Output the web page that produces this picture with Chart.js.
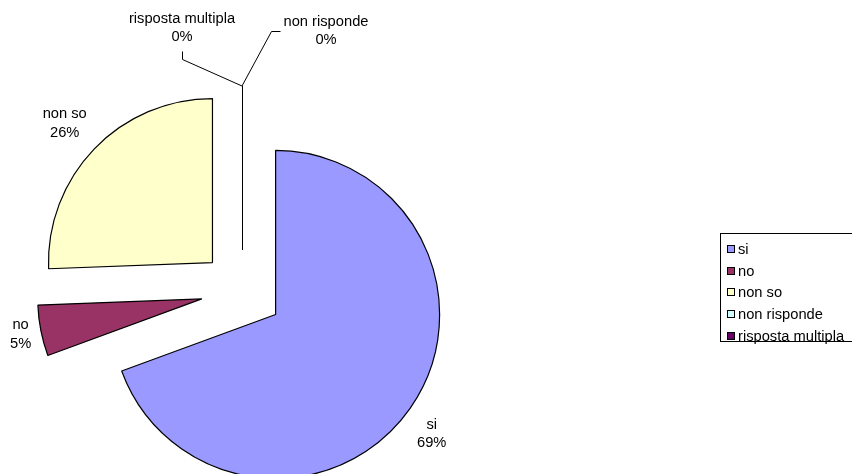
<!DOCTYPE html>
<html>
<head>
<meta charset="utf-8">
<script src="https://cdn.jsdelivr.net/npm/chart.js@4.4.0/dist/chart.umd.min.js"></script>
<style>
  body { margin: 0; background: #fff; }
  #wrap { position: relative; width: 852px; height: 474px; overflow: hidden; }
  #legend {
    position: absolute; left: 720px; top: 233px; width: 150px; height: 109px;
    border: 1px solid #000; box-sizing: border-box; padding-top: 4px;
    font: 14.7px "Liberation Sans", Arial, sans-serif; color: #000;
  }
  #legend .row { height: 21.7px; display: flex; align-items: center; }
  #legend .sw { width: 6px; height: 6px; border: 1px solid #000; margin-left: 6px; margin-right: 3px; }
</style>
</head>
<body>
<div id="wrap">
  <canvas id="chart"></canvas>
  <div id="legend"></div>
</div>
<script>
// data (percent of answers)
const categories = ["si", "no", "non so", "non risponde", "risposta multipla"];
const values = [69.4, 5.0, 25.6, 0, 0];

const colors = ["#9999FF", "#993366", "#FFFFCC", "#CCFFFF", "#660066"];

const EXPLODE = 0.25;   // every slice pulled out by a quarter of the radius
const FONT = '14.7px "Liberation Sans", Arial, sans-serif';
const LINE = 18.4;
const GAP = 8;
// labels that were dragged away from their default spot in the original
const labelNudge = [[3, 10.6], [-2, -1.5], [-8, -7], [84, -28.5], [-60, -31.5]];

const total = values.reduce((a, b) => a + b, 0);

// draw each slice translated along its middle angle (pure explode, same radius)
const explodePlugin = {
  id: 'explode',
  beforeDatasetDraw(chart, args) {
    const ctx = chart.ctx;
    args.meta.data.forEach((arc) => {
      const mid = (arc.startAngle + arc.endAngle) / 2;
      const d = arc.outerRadius * EXPLODE;
      ctx.save();
      ctx.translate(Math.cos(mid) * d, Math.sin(mid) * d);
      arc.draw(ctx);
      ctx.restore();
    });
    return false;
  }
};

const labelPlugin = {
  id: 'pieLabels',
  afterDraw(chart) {
    const ctx = chart.ctx;
    const meta = chart.getDatasetMeta(0);
    ctx.save();
    ctx.font = FONT;
    ctx.fillStyle = '#000';
    ctx.strokeStyle = '#000';
    ctx.lineWidth = 1;
    ctx.textAlign = 'center';
    ctx.textBaseline = 'middle';
    meta.data.forEach((arc, i) => {
      const mid = (arc.startAngle + arc.endAngle) / 2;
      const ux = Math.cos(mid), uy = Math.sin(mid);
      const R = arc.outerRadius;
      const d = R * EXPLODE;
      const ax = arc.x + ux * d, ay = arc.y + uy * d;
      const ex = ax + ux * R, ey = ay + uy * R;

      // zero slices only show as a radius line
      if (arc.circumference === 0) {
        ctx.beginPath();
        ctx.moveTo(Math.round(ax) + 0.5, ay);
        ctx.lineTo(Math.round(ex) + 0.5, ey);
        ctx.stroke();
      }

      const lines = [categories[i], Math.round(values[i] / total * 100) + '%'];
      const w = Math.max(...lines.map(t => ctx.measureText(t).width));
      const h = LINE * lines.length;
      const nudge = labelNudge[i];
      const cx = ax + ux * (R + GAP) + ux * w / 2 + nudge[0];
      const cy = ay + uy * (R + GAP) + uy * h / 2 + nudge[1];
      lines.forEach((t, k) => {
        ctx.fillText(t, cx, cy + (k - (lines.length - 1) / 2) * LINE);
      });

      // leader line when the label sits away from the slice
      if (Math.hypot(nudge[0], nudge[1]) > 20) {
        const left = cx - w / 2 - 4, right = cx + w / 2 + 4;
        const top = cy - h / 2 - 4, bottom = cy + h / 2 + 4;
        const hgap = Math.max(left - ex, ex - right, 0);
        const vgap = Math.max(top - ey, ey - bottom, 0);
        let p1, p2;
        if (vgap >= hgap) {
          const y = ey > cy ? bottom : top;
          p1 = [cx, y];
          p2 = [cx, y + (ey > cy ? 8 : -8)];
        } else {
          const x = ex < cx ? left : right;
          p1 = [x, cy];
          p2 = [x + (ex < cx ? -9 : 9), cy];
        }
        ctx.beginPath();
        ctx.moveTo(Math.round(p1[0]) + 0.5, Math.round(p1[1]) + 0.5);
        ctx.lineTo(Math.round(p2[0]) + 0.5, Math.round(p2[1]) + 0.5);
        ctx.lineTo(ex, ey);
        ctx.stroke();
      }
    });
    ctx.restore();
  }
};

const ctx = document.getElementById("chart").getContext("2d");
new Chart(ctx, {
  type: "pie",
  data: {
    labels: categories,
    datasets: [
      {
        data: values,
        backgroundColor: colors,
        borderColor: "#000",
        borderWidth: 1.2,
        radius: 164,
      },
    ],
  },
  options: {
    responsive: true,
    maintainAspectRatio: false,
    animation: false,
    layout: { padding: { left: 0, right: 368, top: 108, bottom: 0 } },
    plugins: {
      legend: { display: false },
      tooltip: { enabled: false },
    },
  },
  plugins: [explodePlugin, labelPlugin],
});

// legend box on the right
const legendEl = document.getElementById("legend");
categories.forEach((name, i) => {
  const row = document.createElement("div");
  row.className = "row";
  const sw = document.createElement("span");
  sw.className = "sw";
  sw.style.background = colors[i];
  const txt = document.createElement("span");
  txt.textContent = name;
  row.appendChild(sw);
  row.appendChild(txt);
  legendEl.appendChild(row);
});
</script>
</body>
</html>
